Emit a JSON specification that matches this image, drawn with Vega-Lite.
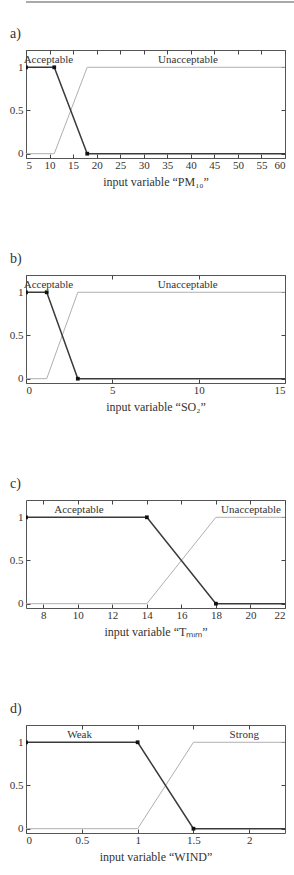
{
  "$schema": "https://vega.github.io/schema/vega-lite/v6.json",
  "padding": 0,
  "background": "white",
  "config": {
    "font": "Liberation Serif",
    "view": {"stroke": "#555", "strokeWidth": 1},
    "title": {"font": "Liberation Serif", "fontSize": 14, "fontWeight": "normal", "color": "#333", "anchor": "start", "frame": "bounds", "dx": 9, "offset": 9},
    "axis": {"labelFont": "Liberation Serif", "labelFontSize": 11, "labelColor": "#333", "titleFont": "Liberation Serif", "titleFontSize": 12, "titleFontWeight": "normal", "titleColor": "#333", "tickColor": "#444", "tickSize": -4, "domain": false, "grid": false, "labelPadding": 5, "titlePadding": 6, "format": "~g"},
    "axisLeft": {"labelPadding": 7}
  },
  "datasets": {
    "mf": [
      {"panel": "a", "mf": "Acceptable", "x": 5, "y": 1}, {"panel": "a", "mf": "Acceptable", "x": 11, "y": 1}, {"panel": "a", "mf": "Acceptable", "x": 18, "y": 0}, {"panel": "a", "mf": "Acceptable", "x": 60, "y": 0},
      {"panel": "a", "mf": "Unacceptable", "x": 5, "y": 0}, {"panel": "a", "mf": "Unacceptable", "x": 11, "y": 0}, {"panel": "a", "mf": "Unacceptable", "x": 18, "y": 1}, {"panel": "a", "mf": "Unacceptable", "x": 60, "y": 1},
      {"panel": "b", "mf": "Acceptable", "x": 0, "y": 1}, {"panel": "b", "mf": "Acceptable", "x": 1.2, "y": 1}, {"panel": "b", "mf": "Acceptable", "x": 3, "y": 0}, {"panel": "b", "mf": "Acceptable", "x": 15, "y": 0},
      {"panel": "b", "mf": "Unacceptable", "x": 0, "y": 0}, {"panel": "b", "mf": "Unacceptable", "x": 1.2, "y": 0}, {"panel": "b", "mf": "Unacceptable", "x": 3, "y": 1}, {"panel": "b", "mf": "Unacceptable", "x": 15, "y": 1},
      {"panel": "c", "mf": "Acceptable", "x": 7, "y": 1}, {"panel": "c", "mf": "Acceptable", "x": 14, "y": 1}, {"panel": "c", "mf": "Acceptable", "x": 18, "y": 0}, {"panel": "c", "mf": "Acceptable", "x": 22, "y": 0},
      {"panel": "c", "mf": "Unacceptable", "x": 7, "y": 0}, {"panel": "c", "mf": "Unacceptable", "x": 14, "y": 0}, {"panel": "c", "mf": "Unacceptable", "x": 18, "y": 1}, {"panel": "c", "mf": "Unacceptable", "x": 22, "y": 1},
      {"panel": "d", "mf": "Weak", "x": 0, "y": 1}, {"panel": "d", "mf": "Weak", "x": 1, "y": 1}, {"panel": "d", "mf": "Weak", "x": 1.5, "y": 0}, {"panel": "d", "mf": "Weak", "x": 2.32, "y": 0},
      {"panel": "d", "mf": "Strong", "x": 0, "y": 0}, {"panel": "d", "mf": "Strong", "x": 1, "y": 0}, {"panel": "d", "mf": "Strong", "x": 1.5, "y": 1}, {"panel": "d", "mf": "Strong", "x": 2.32, "y": 1}
    ],
    "breaks": [
      {"panel": "a", "x": 5, "y": 1}, {"panel": "a", "x": 11, "y": 1}, {"panel": "a", "x": 18, "y": 0},
      {"panel": "b", "x": 0, "y": 1}, {"panel": "b", "x": 1.2, "y": 1}, {"panel": "b", "x": 3, "y": 0},
      {"panel": "c", "x": 7, "y": 1}, {"panel": "c", "x": 14, "y": 1}, {"panel": "c", "x": 18, "y": 0},
      {"panel": "d", "x": 0, "y": 1}, {"panel": "d", "x": 1, "y": 1}, {"panel": "d", "x": 1.5, "y": 0}
    ],
    "labels": [
      {"panel": "a", "label": "Acceptable", "x": 9.75, "y": 1.08}, {"panel": "a", "label": "Unacceptable", "x": 39.4, "y": 1.08},
      {"panel": "b", "label": "Acceptable", "x": 1.3, "y": 1.08}, {"panel": "b", "label": "Unacceptable", "x": 9.37, "y": 1.08},
      {"panel": "c", "label": "Acceptable", "x": 10.07, "y": 1.08}, {"panel": "c", "label": "Unacceptable", "x": 20.03, "y": 1.08},
      {"panel": "d", "label": "Weak", "x": 0.48, "y": 1.08}, {"panel": "d", "label": "Strong", "x": 1.955, "y": 1.08}
    ],
    "topline": [{"v": 0}]
  },
  "columns": 1,
  "align": "none",
  "spacing": 23,
  "concat": [
    {
      "width": 290, "height": 2,
      "view": {"stroke": null},
      "data": {"name": "topline"},
      "mark": {"type": "rule", "color": "#555", "strokeWidth": 1},
      "encoding": {"y": {"field": "v", "type": "quantitative", "scale": {"domain": [0, 1]}, "axis": null}}
    },
    {
      "spacing": 63,
      "vconcat": [
        {
          "title": {"text": "a)"},
          "width": 259, "height": 108,
          "resolve": {"axis": {"x": "independent", "y": "independent"}},
          "layer": [
            {
              "data": {"name": "mf"}, "transform": [{"filter": "datum.panel == 'a' && datum.mf == 'Unacceptable'"}],
              "mark": {"type": "line", "color": "#b0b0b0", "strokeWidth": 1},
              "encoding": {
                "x": {"field": "x", "type": "quantitative", "scale": {"domain": [5, 60], "nice": false, "zero": false}, "axis": {"orient": "bottom", "values": [5,10,15,20,25,30,35,40,45,50,55,60], "title": "input variable “PM₁₀”"}},
                "y": {"field": "y", "type": "quantitative", "scale": {"domain": [-0.05, 1.2], "nice": false}, "axis": {"orient": "left", "values": [0, 0.5, 1], "title": null, "minExtent": 25}}
              }
            },
            {
              "data": {"name": "mf"}, "transform": [{"filter": "datum.panel == 'a' && datum.mf == 'Acceptable'"}],
              "mark": {"type": "line", "color": "#3a3a3a", "strokeWidth": 1.5},
              "encoding": {
                "x": {"field": "x", "type": "quantitative", "axis": {"orient": "top", "values": [5,10,15,20,25,30,35,40,45,50,55,60], "labels": false, "title": null}},
                "y": {"field": "y", "type": "quantitative", "axis": {"orient": "right", "values": [0, 0.5, 1], "labels": false, "title": null}}
              }
            },
            {
              "data": {"name": "breaks"}, "transform": [{"filter": "datum.panel == 'a'"}],
              "mark": {"type": "square", "color": "#111", "opacity": 1, "size": 14, "clip": true},
              "encoding": {"x": {"field": "x", "type": "quantitative", "axis": null}, "y": {"field": "y", "type": "quantitative", "axis": null}}
            },
            {
              "data": {"name": "labels"}, "transform": [{"filter": "datum.panel == 'a'"}],
              "mark": {"type": "text", "font": "Liberation Serif", "fontSize": 11, "color": "#333", "align": "center", "baseline": "middle"},
              "encoding": {"x": {"field": "x", "type": "quantitative", "axis": null}, "y": {"field": "y", "type": "quantitative", "axis": null}, "text": {"field": "label"}}
            }
          ]
        },
        {
          "title": {"text": "b)"},
          "width": 259, "height": 108,
          "resolve": {"axis": {"x": "independent", "y": "independent"}},
          "layer": [
            {
              "data": {"name": "mf"}, "transform": [{"filter": "datum.panel == 'b' && datum.mf == 'Unacceptable'"}],
              "mark": {"type": "line", "color": "#b0b0b0", "strokeWidth": 1},
              "encoding": {
                "x": {"field": "x", "type": "quantitative", "scale": {"domain": [0, 15], "nice": false, "zero": false}, "axis": {"orient": "bottom", "values": [0, 5, 10, 15], "title": "input variable “SO₂”"}},
                "y": {"field": "y", "type": "quantitative", "scale": {"domain": [-0.05, 1.2], "nice": false}, "axis": {"orient": "left", "values": [0, 0.5, 1], "title": null, "minExtent": 25}}
              }
            },
            {
              "data": {"name": "mf"}, "transform": [{"filter": "datum.panel == 'b' && datum.mf == 'Acceptable'"}],
              "mark": {"type": "line", "color": "#3a3a3a", "strokeWidth": 1.5},
              "encoding": {
                "x": {"field": "x", "type": "quantitative", "axis": {"orient": "top", "values": [0, 5, 10, 15], "labels": false, "title": null}},
                "y": {"field": "y", "type": "quantitative", "axis": {"orient": "right", "values": [0, 0.5, 1], "labels": false, "title": null}}
              }
            },
            {
              "data": {"name": "breaks"}, "transform": [{"filter": "datum.panel == 'b'"}],
              "mark": {"type": "square", "color": "#111", "opacity": 1, "size": 14, "clip": true},
              "encoding": {"x": {"field": "x", "type": "quantitative", "axis": null}, "y": {"field": "y", "type": "quantitative", "axis": null}}
            },
            {
              "data": {"name": "labels"}, "transform": [{"filter": "datum.panel == 'b'"}],
              "mark": {"type": "text", "font": "Liberation Serif", "fontSize": 11, "color": "#333", "align": "center", "baseline": "middle"},
              "encoding": {"x": {"field": "x", "type": "quantitative", "axis": null}, "y": {"field": "y", "type": "quantitative", "axis": null}, "text": {"field": "label"}}
            }
          ]
        },
        {
          "title": {"text": "c)"},
          "width": 259, "height": 108,
          "resolve": {"axis": {"x": "independent", "y": "independent"}},
          "layer": [
            {
              "data": {"name": "mf"}, "transform": [{"filter": "datum.panel == 'c' && datum.mf == 'Unacceptable'"}],
              "mark": {"type": "line", "color": "#b0b0b0", "strokeWidth": 1},
              "encoding": {
                "x": {"field": "x", "type": "quantitative", "scale": {"domain": [7, 22], "nice": false, "zero": false}, "axis": {"orient": "bottom", "values": [8, 10, 12, 14, 16, 18, 20, 22], "title": "input variable “Tₘᵢₘ”"}},
                "y": {"field": "y", "type": "quantitative", "scale": {"domain": [-0.05, 1.2], "nice": false}, "axis": {"orient": "left", "values": [0, 0.5, 1], "title": null, "minExtent": 25}}
              }
            },
            {
              "data": {"name": "mf"}, "transform": [{"filter": "datum.panel == 'c' && datum.mf == 'Acceptable'"}],
              "mark": {"type": "line", "color": "#3a3a3a", "strokeWidth": 1.5},
              "encoding": {
                "x": {"field": "x", "type": "quantitative", "axis": {"orient": "top", "values": [8, 10, 12, 14, 16, 18, 20, 22], "labels": false, "title": null}},
                "y": {"field": "y", "type": "quantitative", "axis": {"orient": "right", "values": [0, 0.5, 1], "labels": false, "title": null}}
              }
            },
            {
              "data": {"name": "breaks"}, "transform": [{"filter": "datum.panel == 'c'"}],
              "mark": {"type": "square", "color": "#111", "opacity": 1, "size": 14, "clip": true},
              "encoding": {"x": {"field": "x", "type": "quantitative", "axis": null}, "y": {"field": "y", "type": "quantitative", "axis": null}}
            },
            {
              "data": {"name": "labels"}, "transform": [{"filter": "datum.panel == 'c'"}],
              "mark": {"type": "text", "font": "Liberation Serif", "fontSize": 11, "color": "#333", "align": "center", "baseline": "middle"},
              "encoding": {"x": {"field": "x", "type": "quantitative", "axis": null}, "y": {"field": "y", "type": "quantitative", "axis": null}, "text": {"field": "label"}}
            }
          ]
        },
        {
          "title": {"text": "d)"},
          "width": 259, "height": 108,
          "resolve": {"axis": {"x": "independent", "y": "independent"}},
          "layer": [
            {
              "data": {"name": "mf"}, "transform": [{"filter": "datum.panel == 'd' && datum.mf == 'Strong'"}],
              "mark": {"type": "line", "color": "#b0b0b0", "strokeWidth": 1},
              "encoding": {
                "x": {"field": "x", "type": "quantitative", "scale": {"domain": [0, 2.32], "nice": false, "zero": false}, "axis": {"orient": "bottom", "values": [0, 0.5, 1, 1.5, 2], "title": "input variable “WIND”"}},
                "y": {"field": "y", "type": "quantitative", "scale": {"domain": [-0.05, 1.2], "nice": false}, "axis": {"orient": "left", "values": [0, 0.5, 1], "title": null, "minExtent": 25}}
              }
            },
            {
              "data": {"name": "mf"}, "transform": [{"filter": "datum.panel == 'd' && datum.mf == 'Weak'"}],
              "mark": {"type": "line", "color": "#3a3a3a", "strokeWidth": 1.5},
              "encoding": {
                "x": {"field": "x", "type": "quantitative", "axis": {"orient": "top", "values": [0, 0.5, 1, 1.5, 2], "labels": false, "title": null}},
                "y": {"field": "y", "type": "quantitative", "axis": {"orient": "right", "values": [0, 0.5, 1], "labels": false, "title": null}}
              }
            },
            {
              "data": {"name": "breaks"}, "transform": [{"filter": "datum.panel == 'd'"}],
              "mark": {"type": "square", "color": "#111", "opacity": 1, "size": 14, "clip": true},
              "encoding": {"x": {"field": "x", "type": "quantitative", "axis": null}, "y": {"field": "y", "type": "quantitative", "axis": null}}
            },
            {
              "data": {"name": "labels"}, "transform": [{"filter": "datum.panel == 'd'"}],
              "mark": {"type": "text", "font": "Liberation Serif", "fontSize": 11, "color": "#333", "align": "center", "baseline": "middle"},
              "encoding": {"x": {"field": "x", "type": "quantitative", "axis": null}, "y": {"field": "y", "type": "quantitative", "axis": null}, "text": {"field": "label"}}
            }
          ]
        }
      ]
    }
  ]
}
